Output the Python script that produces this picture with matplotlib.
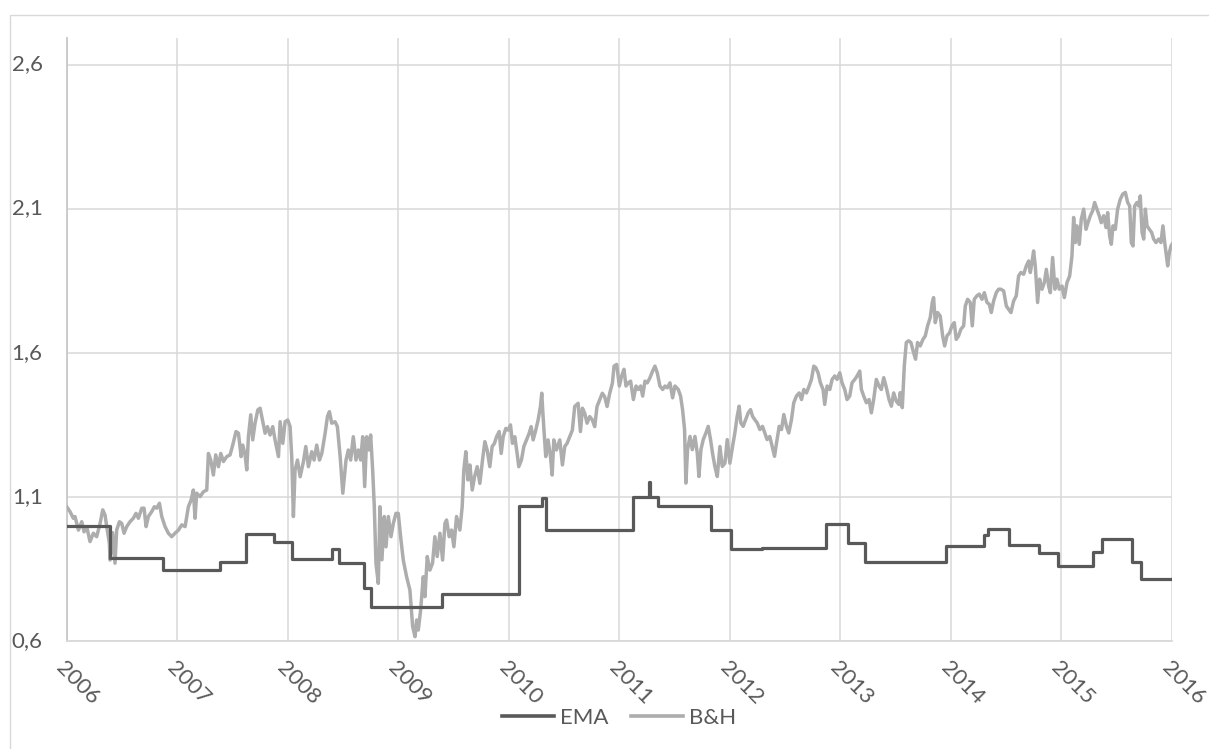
import matplotlib
matplotlib.use("Agg")
import matplotlib.pyplot as plt
from matplotlib.lines import Line2D
from matplotlib.patches import Rectangle

# ---- data -------------------------------------------------------------
# Buy & hold cumulative value (decimal year, value)
bh_years = [
    2006.000, 2006.030, 2006.060, 2006.075, 2006.106, 2006.136, 2006.157, 2006.181,
    2006.211, 2006.241, 2006.271, 2006.302, 2006.326, 2006.347, 2006.362, 2006.386,
    2006.392, 2006.415, 2006.437, 2006.452, 2006.477, 2006.498, 2006.519, 2006.543,
    2006.573, 2006.603, 2006.627, 2006.649, 2006.679, 2006.700, 2006.718, 2006.739,
    2006.769, 2006.793, 2006.814, 2006.839, 2006.860, 2006.890, 2006.920, 2006.950,
    2006.980, 2007.011, 2007.041, 2007.071, 2007.101, 2007.125, 2007.146, 2007.161,
    2007.176, 2007.207, 2007.237, 2007.267, 2007.282, 2007.303, 2007.327, 2007.348,
    2007.373, 2007.394, 2007.418, 2007.448, 2007.478, 2007.502, 2007.532, 2007.554,
    2007.578, 2007.593, 2007.614, 2007.629, 2007.644, 2007.665, 2007.683, 2007.704,
    2007.729, 2007.750, 2007.774, 2007.795, 2007.816, 2007.840, 2007.864, 2007.885,
    2007.916, 2007.931, 2007.955, 2007.976, 2008.000, 2008.021, 2008.036, 2008.051,
    2008.066, 2008.088, 2008.112, 2008.142, 2008.163, 2008.187, 2008.217, 2008.238,
    2008.262, 2008.287, 2008.308, 2008.338, 2008.359, 2008.377, 2008.398, 2008.428,
    2008.449, 2008.474, 2008.498,
    2008.527, 2008.548, 2008.569, 2008.593, 2008.617, 2008.639, 2008.660, 2008.678,
    2008.696, 2008.714, 2008.735, 2008.750, 2008.768, 2008.783, 2008.798, 2008.819,
    2008.834, 2008.852, 2008.873, 2008.889, 2008.910, 2008.934, 2008.955, 2008.979,
    2009.000, 2009.021, 2009.045, 2009.075, 2009.105, 2009.130, 2009.151, 2009.166,
    2009.181, 2009.202, 2009.226, 2009.241, 2009.262, 2009.286, 2009.310, 2009.331,
    2009.352, 2009.377, 2009.401, 2009.422, 2009.437, 2009.461, 2009.482, 2009.503,
    2009.527, 2009.557, 2009.578, 2009.593, 2009.611, 2009.630, 2009.648, 2009.669,
    2009.690, 2009.714, 2009.738, 2009.762, 2009.783, 2009.804, 2009.828, 2009.849,
    2009.870, 2009.889, 2009.913, 2009.931, 2009.949, 2009.973, 2009.994, 2010.015,
    2010.033, 2010.054, 2010.075, 2010.090, 2010.114, 2010.136, 2010.160, 2010.184,
    2010.202, 2010.220, 2010.244, 2010.265, 2010.286, 2010.298, 2010.310, 2010.334,
    2010.355, 2010.377, 2010.392, 2010.407, 2010.431, 2010.461, 2010.485, 2010.506,
    2010.527, 2010.551, 2010.575, 2010.596, 2010.627, 2010.648, 2010.666, 2010.687,
    2010.708, 2010.732, 2010.756, 2010.777, 2010.798, 2010.822, 2010.846, 2010.867,
    2010.889, 2010.913, 2010.937,
    2010.952, 2010.976, 2011.000, 2011.021, 2011.042, 2011.060, 2011.081, 2011.102,
    2011.127, 2011.151, 2011.172, 2011.193, 2011.211, 2011.232, 2011.253, 2011.277,
    2011.301, 2011.322, 2011.343, 2011.367, 2011.392, 2011.413, 2011.434, 2011.458,
    2011.482, 2011.503, 2011.533, 2011.554, 2011.572, 2011.590, 2011.602, 2011.617,
    2011.639, 2011.660, 2011.684, 2011.705, 2011.720, 2011.738, 2011.759, 2011.783,
    2011.804, 2011.825, 2011.843, 2011.864, 2011.886, 2011.910, 2011.931, 2011.955,
    2011.976, 2012.000, 2012.024, 2012.045, 2012.066, 2012.084, 2012.099, 2012.120,
    2012.142, 2012.166, 2012.187, 2012.205, 2012.226, 2012.247, 2012.271, 2012.295,
    2012.316, 2012.337, 2012.361, 2012.383, 2012.404, 2012.422, 2012.446, 2012.467,
    2012.488, 2012.512, 2012.533, 2012.557, 2012.578, 2012.602, 2012.627, 2012.648,
    2012.669, 2012.693, 2012.717, 2012.738, 2012.759, 2012.777, 2012.798, 2012.819,
    2012.843, 2012.858, 2012.880, 2012.904, 2012.925, 2012.949, 2012.970, 2012.994,
    2013.015, 2013.039, 2013.060, 2013.084, 2013.105, 2013.130, 2013.151, 2013.175,
    2013.190, 2013.211, 2013.235, 2013.259, 2013.280, 2013.301, 2013.325, 2013.349,
    2013.370, 2013.392, 2013.416, 2013.440, 2013.461, 2013.482, 2013.506, 2013.530,
    2013.541, 2013.560, 2013.578, 2013.596, 2013.617, 2013.638, 2013.662, 2013.680,
    2013.698, 2013.722, 2013.747, 2013.768, 2013.789, 2013.813, 2013.831, 2013.843,
    2013.858, 2013.879, 2013.903, 2013.925, 2013.943, 2013.964, 2013.988, 2014.009,
    2014.030, 2014.048, 2014.069, 2014.090, 2014.115, 2014.130, 2014.151, 2014.175,
    2014.193, 2014.211, 2014.235, 2014.256, 2014.281, 2014.302, 2014.326, 2014.347,
    2014.365, 2014.386, 2014.410, 2014.431, 2014.452, 2014.477, 2014.501, 2014.522,
    2014.543, 2014.567, 2014.591, 2014.612, 2014.633, 2014.658, 2014.682, 2014.703,
    2014.718, 2014.733, 2014.748, 2014.763, 2014.784, 2014.802, 2014.824, 2014.845,
    2014.863, 2014.884, 2014.899, 2014.920, 2014.941, 2014.959, 2014.980, 2015.005,
    2015.026, 2015.050, 2015.074, 2015.095, 2015.110, 2015.125, 2015.140, 2015.161,
    2015.179, 2015.201, 2015.222, 2015.240, 2015.261, 2015.282, 2015.300, 2015.321,
    2015.342, 2015.360, 2015.382, 2015.403, 2015.418, 2015.436, 2015.451, 2015.466,
    2015.487, 2015.508, 2015.532, 2015.554, 2015.578, 2015.599, 2015.617, 2015.632,
    2015.647, 2015.662, 2015.683, 2015.698, 2015.713, 2015.729, 2015.744, 2015.759,
    2015.774, 2015.795, 2015.816, 2015.834, 2015.855, 2015.879, 2015.900, 2015.918,
    2015.934, 2015.949, 2015.961, 2015.976, 2015.991, 2016.000,
]
bh_values = [
    1.065, 1.048, 1.025, 1.031, 0.984, 1.013, 0.978, 0.996,
    0.944, 0.973, 0.961, 1.007, 1.054, 1.036, 0.996, 0.938,
    0.880, 0.975, 0.869, 0.984, 1.013, 1.007, 0.973, 0.996,
    1.013, 1.025, 1.042, 1.025, 1.060, 1.060, 0.996, 1.031,
    1.048, 1.065, 1.060, 1.077, 1.031, 0.996, 0.973, 0.961,
    0.973, 0.984, 1.002, 0.996, 1.065, 1.088, 1.123, 1.025,
    1.112, 1.100, 1.117, 1.123, 1.250, 1.227, 1.175, 1.245,
    1.204, 1.250, 1.222, 1.239, 1.245, 1.279, 1.326, 1.320,
    1.239, 1.279, 1.245, 1.193, 1.308, 1.384, 1.297, 1.355,
    1.401, 1.407, 1.360, 1.320, 1.343, 1.314, 1.343, 1.297,
    1.239, 1.360, 1.285, 1.360, 1.366, 1.343, 1.239, 1.031,
    1.193, 1.227, 1.169, 1.222, 1.274, 1.204, 1.256, 1.227,
    1.279, 1.227, 1.250, 1.320, 1.378, 1.395, 1.355, 1.360,
    1.343, 1.239, 1.112,
    1.227, 1.262, 1.227, 1.308, 1.227, 1.262, 1.227, 1.308,
    1.135, 1.308, 1.262, 1.314, 1.193, 1.065, 0.869, 0.799,
    1.065, 0.881, 1.031, 0.926, 1.031, 0.961, 1.007, 1.042,
    1.042, 0.961, 0.880, 0.822, 0.776, 0.649, 0.614, 0.672,
    0.637, 0.706, 0.822, 0.753, 0.892, 0.845, 0.869, 0.961,
    0.892, 0.973, 0.880, 1.007, 1.019, 0.961, 0.984, 0.926,
    1.031, 0.984, 1.065, 1.193, 1.256, 1.158, 1.210, 1.123,
    1.169, 1.204, 1.146, 1.227, 1.291, 1.262, 1.204, 1.274,
    1.285, 1.308, 1.326, 1.250, 1.308, 1.337, 1.331, 1.349,
    1.285, 1.308, 1.250, 1.204, 1.227, 1.274, 1.297, 1.320,
    1.343, 1.297, 1.331, 1.366, 1.413, 1.459, 1.378, 1.239,
    1.297, 1.239, 1.175, 1.297, 1.262, 1.297, 1.210, 1.274,
    1.285, 1.308, 1.331, 1.413, 1.424, 1.326, 1.407, 1.389,
    1.355, 1.378, 1.366, 1.343, 1.413, 1.436, 1.459, 1.447,
    1.413, 1.459, 1.494,
    1.553, 1.559, 1.484, 1.519, 1.542, 1.484, 1.495, 1.501,
    1.437, 1.484, 1.472, 1.484, 1.449, 1.501, 1.495, 1.513,
    1.536, 1.553, 1.530, 1.484, 1.472, 1.484, 1.478, 1.495,
    1.443, 1.484, 1.472, 1.449, 1.402, 1.333, 1.147, 1.263,
    1.309, 1.263, 1.309, 1.251, 1.170, 1.263, 1.298, 1.321,
    1.344, 1.298, 1.251, 1.205, 1.170, 1.274, 1.205, 1.216,
    1.298, 1.216, 1.274, 1.321, 1.379, 1.414, 1.356, 1.344,
    1.367, 1.391, 1.402, 1.379, 1.367, 1.356, 1.333, 1.344,
    1.321, 1.298, 1.309, 1.274, 1.240, 1.286, 1.344, 1.333,
    1.385, 1.344, 1.321, 1.367, 1.426, 1.449, 1.460, 1.437,
    1.472, 1.460, 1.484, 1.507, 1.553, 1.548, 1.530, 1.495,
    1.472, 1.420, 1.484, 1.472, 1.507, 1.519, 1.507, 1.530,
    1.495, 1.472, 1.437, 1.449, 1.495, 1.507, 1.519, 1.536,
    1.472, 1.449, 1.426, 1.437, 1.391, 1.437, 1.507, 1.484,
    1.472, 1.513, 1.478, 1.437, 1.414, 1.460, 1.431, 1.420,
    1.461, 1.409, 1.554, 1.635, 1.641, 1.635, 1.600, 1.577,
    1.635, 1.623, 1.646, 1.658, 1.693, 1.722, 1.774, 1.791,
    1.704, 1.739, 1.727, 1.658, 1.623, 1.658, 1.669, 1.693,
    1.704, 1.646, 1.658, 1.681, 1.693, 1.762, 1.785, 1.774,
    1.693, 1.785, 1.797, 1.803, 1.785, 1.808, 1.774, 1.768,
    1.739, 1.779, 1.808, 1.820, 1.820, 1.814, 1.762, 1.750,
    1.739, 1.779, 1.797, 1.866, 1.878, 1.872, 1.901, 1.918,
    1.878, 1.913, 1.953, 1.901, 1.774, 1.855, 1.820, 1.843,
    1.889, 1.831, 1.808, 1.930, 1.820, 1.855, 1.820, 1.831,
    1.791, 1.843, 1.866, 1.936, 2.069, 1.982, 2.040, 1.976,
    2.063, 2.098, 2.028, 2.051, 2.075, 2.092, 2.121, 2.098,
    2.075, 2.051, 2.075, 2.034, 2.086, 2.005, 1.976, 2.040,
    2.028, 2.098, 2.132, 2.150, 2.156, 2.121, 2.109, 1.982,
    1.970, 2.109, 2.121, 2.109, 2.144, 2.017, 1.994, 2.098,
    2.040, 2.028, 2.017, 1.994, 1.982, 1.994, 1.982, 2.040,
    1.982, 1.936, 1.901, 1.947, 1.970, 1.976,
]

# EMA strategy: level held from each switch date until the next one
ema_switch_years = [
    2006.000, 2006.392, 2006.874, 2007.387, 2007.623, 2007.876, 2008.039, 2008.398,
    2008.464, 2008.690, 2008.754, 2009.394, 2010.096, 2010.299, 2010.335, 2011.128,
    2011.272, 2011.277, 2011.348, 2011.831, 2012.012, 2012.290, 2012.872, 2013.073,
    2013.224, 2013.955, 2014.295, 2014.335, 2014.521, 2014.799, 2014.965, 2015.285,
    2015.367, 2015.638, 2015.722, 2016.000,
]
ema_levels = [
    0.998, 0.886, 0.845, 0.874, 0.970, 0.942, 0.884, 0.918,
    0.869, 0.782, 0.718, 0.762, 1.068, 1.097, 0.984, 1.100,
    1.152, 1.100, 1.068, 0.984, 0.918, 0.923, 1.005, 0.940,
    0.872, 0.930, 0.967, 0.987, 0.932, 0.906, 0.860, 0.909,
    0.952, 0.872, 0.814, 0.814,
]

year_ticks = list(range(2006, 2017))
value_ticks = [0.6, 1.1, 1.6, 2.1, 2.6]

# ---- style ------------------------------------------------------------
TEXT = "#595959"
GRID = "#d9d9d9"
EMA_COLOR = "#595959"
BH_COLOR = "#adadad"
FONT = ["Lato", "DejaVu Sans"]
LABEL_SIZE = 16

plt.rcParams["font.family"] = FONT

fig = plt.figure(figsize=(12.09, 7.49), dpi=100)
fig.patch.set_facecolor("white")

# chart-area frame
fig.patches.append(Rectangle((10 / 1209, -0.05), 1.2, (749 - 15) / 749 + 0.05,
                             transform=fig.transFigure, fill=False,
                             edgecolor=GRID, linewidth=1.0, zorder=0))

ax = fig.add_axes([66.7 / 1209, (749 - 640.7) / 749,
                   (1172 - 66.7) / 1209, (640.7 - 38) / 749])

ax.plot(bh_years, bh_values, color=BH_COLOR, lw=2.5, solid_joinstyle="round",
        zorder=3)
ax.step(ema_switch_years, ema_levels, where="post", color=EMA_COLOR, lw=2.3,
        zorder=4)

ax.set_xlim(2006, 2016)
ax.set_ylim(0.6, 2.692)
ax.set_xticks(year_ticks)
ax.set_yticks(value_ticks)
ax.set_xticklabels([str(y) for y in year_ticks], fontsize=LABEL_SIZE,
                   rotation=-45, rotation_mode="anchor", ha="left", va="top")
ax.set_yticklabels([])

# value labels, right-aligned a fixed distance left of the axis
for v in value_ticks:
    ax.annotate(f"{v:.1f}".replace(".", ","), xy=(0, v),
                xycoords=("axes fraction", "data"),
                xytext=(-24, 0), textcoords="offset pixels",
                ha="right", va="center", fontsize=LABEL_SIZE, color=TEXT)

ax.grid(True, color=GRID, lw=1.1, zorder=0)
for side in ("top", "right"):
    ax.spines[side].set_visible(False)
ax.spines["left"].set_color("#c8c8c8")
ax.spines["bottom"].set_color(GRID)
ax.spines["left"].set_linewidth(1.3)
ax.spines["bottom"].set_linewidth(1.3)

ax.tick_params(axis="both", length=0, colors=TEXT)
ax.tick_params(axis="x", pad=12)

handles = [Line2D([], [], color=EMA_COLOR, lw=2.6),
           Line2D([], [], color=BH_COLOR, lw=2.6)]
fig.legend(handles, ["EMA", "B&H"], loc="center",
           bbox_to_anchor=(619.3 / 1209, (749 - 718) / 749), ncol=2,
           frameon=False, fontsize=LABEL_SIZE, labelcolor=TEXT,
           handlelength=2.35, handletextpad=0.27, columnspacing=1.0)

fig.savefig("out.png", dpi=100, facecolor="white")
